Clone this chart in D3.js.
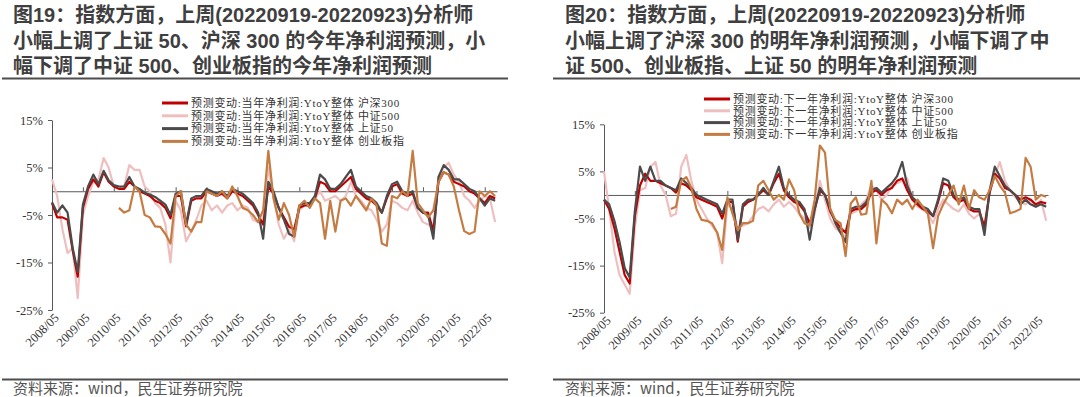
<!DOCTYPE html>
<html>
<head>
<meta charset="utf-8">
<script src="https://cdn.jsdelivr.net/npm/d3@7/dist/d3.min.js"></script>
<style>
    body { margin: 0; background: #ffffff; }
    svg { display: block; }
</style>
</head>
<body>
<svg id="chart" width="1080" height="397"></svg>
<script>
// bi-monthly samples, 2008/05 .. 2022/09
var firstSample = "2008-05-01"
var lastDay = "2022-09-23"
var xTickLabels = ["2008/05", "2009/05", "2010/05", "2011/05", "2012/05", "2013/05", "2014/05", "2015/05",
    "2016/05", "2017/05", "2018/05", "2019/05", "2020/05", "2021/05", "2022/05"]
var yTickValues = [15, 5, -5, -15, -25]

var seriesNames = ["沪深300", "中证500", "上证50", "创业板指"]

// 图19: 当年净利润预测变动 (%)
var thisYearHs300 = [-2.5, -5.5, -5.5, -6, -12.5, -18, -3.5, 0.5, 2.5, 1,
    4, 2, 1, 0.5, 0.5, 2, 1, 0, -0.5, -1,
    -2, -2.5, -3.5, -5.7, -1, -1, -7.4, -2, -1.5, -1.5,
    0, -0.5, -1, -0.5, -1.5, 0, -0.5, -1, -2, -3,
    -5, -7, 1, -0.5, -3.5, -5.5, -7.5, -8, -3.5, -3,
    -3, -1.5, 2, 1.5, 0, 0, 1, 2, 3, 0.5,
    -0.5, -1.5, -2, -3, -4.5, -1.5, 1, 1.5, -0.5, -1,
    -0.5, -3.5, -4.5, -4.5, -8.4, 2, 4, 3.5, 2, 1.5,
    1, 0, -0.5, -1.5, -2.5, -1, -1.5]
var thisYearZz500 = [2.5, -1, -8, -13, -12, -22.5, -5, -1, 2, 2.5,
    7, 5, 1, 0.5, 1, 5.5, 4.5, 4.5, 1, 0,
    -2.5, -3.5, -7, -15, -2, -4, -10.5, -8.5, -6, -3,
    -2, -4, -3, -4.5, -3, -2.5, -4, -3, -3.5, -6,
    -6.5, -7, 5, -1, -7, -10, -8, -10.5, -4, -3,
    -2.5, -1.5, 0, -2, -1.5, -1, -2, -1, 2, -1,
    -2, -3.5, -4, -6, -8.5, -7, -2, -2.5, -3.5, -4,
    -2, -4.5, -6.5, -7, -7.5, 3, 5, 6, 3.5, 2,
    -1, -2, -3.5, -2, -1, -1.5, -6.5]
var thisYearSz50 = [-2.3, -4.5, -3, -4.5, -12, -17, -2.8, 1, 3.5, 1.5,
    4.3, 2.3, 1.3, 1, 1, 3, 1, 0.5, -0.3, -0.7,
    -1.2, -2, -2.8, -5, -0.5, 0, -7, -1.5, -1, -1,
    0.5, 0, -0.5, 0, -1, 0.5, 0, -0.5, -1.5, -2.5,
    -4.5, -10, 2, 0, -3.5, -6, -9, -9.5, -3, -2.5,
    -2.5, -1, 3.5, 2.5, 0.5, 0.5, 1.5, 3, 4.5, 1,
    0, -1, -1.5, -2.5, -4.5, -1, 1.5, 2, 0, -0.5,
    0, -3.5, -4.5, -5, -10, 3, 5.5, 4.5, 2.5, 2.5,
    1.5, 0.5, 0, -1.5, -3, -1.5, -2]
var thisYearCyb = [null, null, null, null, null, null, null, null, null, null,
    null, null, null, -3.5, -4.5, -4, 1, 0, -5, -5.5,
    -7.4, -7.5, -9, -11, -1, 0, -7, -8.5, -6.5, -6.5,
    0, -0.5, -1, 0, -1.5, 1, -1, -3.5, -4, -5,
    -6.5, -4, 8.5, -1.5, -6, -2.5, -5, -9.6, -3, -2,
    -3.5, -1.5, -2.5, -10, -2, -8.5, -2, -1.5, -3, -1,
    -2.5, -4, -1.5, -3, -11, -11.5, -1, -1.5, 0, -1,
    8.5, -2.5, -4, -5.5, -4, 2, 4, 3.5, 1, -4,
    -8.4, -9, -8.5, 0, -1, 0, -1]

// 图20: 下一年净利润预测变动 (%)
var nextYearHs300 = [-1, -3, -7, -12, -17, -18.8, -4.5, 2, 4.5, 3,
    3, 2.5, 2, 1.5, 0.5, 2.5, 2, 1, -0.5, -1,
    -1.5, -2, -2.5, -5, -1.5, -1.5, -9.9, -2.5, -1.5, -1,
    0, 1, 0, 2.5, 4.5, 1, -0.5, -1.5, -2, -3.5,
    -6, -3, 1, 0, -3.5, -5.5, -7, -8, -3.5, -3,
    -3, -2, 0.5, 1, 0, 1, 1.5, 3, 3.5, 1,
    -1, -2, -3, -3.5, -4.5, -1.5, 2.5, 2, -0.5, -1.5,
    -1, -3, -3.5, -3.5, -6.7, 0.5, 4.5, 3.5, 1.5, 1,
    0, -1, -0.5, -1, -2, -1.5, -1.8]
var nextYearZz500 = [5, -3, -12, -17, -19, -21, -7, 1, 1.5, 6,
    7, 2, 0, -4.5, -4, 6, 8.5, 3, -1, -3,
    -5, -6.5, -8, -14.5, -2, -3, -7, -6.5, -6, -4.5,
    -3, -2.5, -3.5, -2, -1, -2.5, -1.5, -2.5, -4, -5,
    -7, -4, 3, -1, -5, -7, -8, -9, -4, -3.5,
    -2, -1, 2, 1, -1, 0, 2, 2.5, 3, 3.5,
    -1, -2.5, -3, -4, -6, -3, -1, -2, -3, -3.5,
    -2, -4, -5, -4, -7, 1, 4, 7, 3, 1,
    -0.5, -1.5, -2, -1, -2.5, -1, -5.5]
var nextYearSz50 = [-1, -2, -5.5, -10, -15.5, -17.5, -3.5, 6, 3, 6,
    3, 3, 2, 1.5, 1, 3.5, 2.5, 1.5, 0, -0.5,
    -1, -1.5, -2, -4, -1, -1, -9.5, -2, -1, -1,
    0, 1.5, 0, 3, 6, 1.5, 0, -1, -1.5, -3,
    -9.5, -3, 1.5, 0, -3, -6, -8, -10, -3, -2.5,
    -2.5, -1.5, 1, 1.5, 0.5, 1.5, 2.5, 4, 7, 2,
    -0.5, -1.5, -2.5, -3, -4.5, -1, 3.5, 3, 0, -1,
    -0.5, -2.5, -3, -3, -8.5, 1, 6, 4, 2, 1,
    0, -2, -1, -2, -2.5, -2, -2.5]
var nextYearCyb = [null, null, null, null, null, null, null, null, null, null,
    null, null, null, -3, -2.5, 3, 3.8, 1.5, -3, -5.3,
    -5.5, -6, -8, -11.7, -0.5, -4, -7.5, -6, -6, -5.5,
    2, 3, 1, -1, 0, -1, 3.3, 1, -4, -6,
    -6.5, -1, 10.5, 9, -3, -5.3, -6, -13, -1.8, -0.5,
    -4.2, -4, 3, -10.3, -1, -2, -3.9, -1, -2, -1,
    -3, -1, -2.5, -4, -11.3, -4.5, -2, 0, 2, -2,
    2, -3, 1, -0.5, -1, 1, 4, 2, 0.5, -3.9,
    -3.5, -3, 7.9, 6, -1, 0, -0.4]

var seriesColors = ["#c00000", "#efbfbf", "#4b4b4b", "#c47c42"]
var drawOrder = [1, 0, 2, 3]

function sampleDates(count) {
    var start = new Date(firstSample + "T00:00:00Z")
    return d3.range(count).map(function (i) { return d3.utcMonth.offset(start, 2 * i) })
}

function tickDate(label) {
    var parts = label.split("/")
    return new Date(Date.UTC(+parts[0], +parts[1] - 1, 1))
}

function IndexPanelBuilder(configuration, seriesValues, legendPrefix) {

    var dates = sampleDates(seriesValues[0].length)

    var x = d3.scaleUtc()
        .domain([new Date(firstSample + "T00:00:00Z"), new Date(lastDay + "T00:00:00Z")])
        .range([configuration.plotLeft, configuration.plotRight])

    var y = d3.scaleLinear()
        .domain([-25, 15])
        .range([configuration.plotBottom, configuration.plotTop])

    function drawHeader(container) {
        configuration.titleLines.forEach(function (line, i) {
            container.append("text")
                .attr("x", configuration.left + 12)
                .attr("y", 22 + i * 25.5)
                .attr("font-family", "'Liberation Sans', 'Noto Sans CJK SC', sans-serif")
                .attr("font-weight", "bold")
                .attr("font-size", 20)
                .attr("fill", "#3f3f3f")
                .text(line)
        })

        container.append("line")
            .attr("x1", configuration.ruleLeft)
            .attr("x2", configuration.ruleRight)
            .attr("y1", 78.5)
            .attr("y2", 78.5)
            .attr("style", "stroke: #4d4d4d; stroke-width: 2.2")
    }

    function drawFooter(container) {
        container.append("line")
            .attr("x1", configuration.ruleLeft)
            .attr("x2", configuration.ruleRight)
            .attr("y1", 379.5)
            .attr("y2", 379.5)
            .attr("style", "stroke: #4d4d4d; stroke-width: 2.2")

        container.append("text")
            .attr("x", configuration.left + 12)
            .attr("y", 394)
            .attr("font-family", "'Noto Sans CJK SC', sans-serif")
            .attr("font-size", 15)
            .attr("fill", "#555555")
            .text("资料来源：wind，民生证券研究院")
    }

    function drawAxes(container) {
        var yAxis = container.append("g")
            .attr("transform", "translate(" + configuration.plotLeft + ",0)")
            .call(d3.axisLeft(y).tickValues(yTickValues).tickSizeInner(4).tickSizeOuter(0).tickPadding(5)
                .tickFormat(function (d) { return d + "%" }))
        yAxis.selectAll("path, line").attr("stroke", "#595959")
        yAxis.selectAll("text")
            .attr("font-family", "'Liberation Serif', 'Times New Roman', serif")
            .attr("font-size", 12.5)
            .attr("fill", "#333333")

        var tickDates = xTickLabels.map(tickDate)

        var zeroAxis = container.append("g")
            .attr("transform", "translate(0," + y(0) + ")")
            .call(d3.axisBottom(x).tickValues(tickDates).tickSizeInner(-4).tickSizeOuter(0).tickFormat(""))
        zeroAxis.selectAll("path, line").attr("stroke", "#595959")

        var labelAxis = container.append("g")
            .attr("transform", "translate(0," + (configuration.plotBottom + 5) + ")")
            .call(d3.axisBottom(x).tickValues(tickDates).tickSize(0).tickPadding(0)
                .tickFormat(function (d, i) { return xTickLabels[i] }))
        labelAxis.select(".domain").remove()
        labelAxis.selectAll("text")
            .attr("font-family", "'Liberation Serif', 'Times New Roman', serif")
            .attr("font-size", 12.5)
            .attr("fill", "#333333")
            .attr("text-anchor", "end")
            .attr("dx", "0.2em")
            .attr("dy", "0.6em")
            .attr("transform", "rotate(-45)")
    }

    function drawSeries(container) {
        drawOrder.forEach(function (k) {
            var line = d3.line()
                .defined(function (d) { return d != null })
                .x(function (d, i) { return x(dates[i]) })
                .y(function (d) { return y(d) })

            container.append("path")
                .datum(seriesValues[k])
                .attr("d", line)
                .attr("fill", "none")
                .attr("stroke", seriesColors[k])
                .attr("stroke-width", 2.2)
                .attr("stroke-linejoin", "round")
        })
    }

    function drawLegend(container) {
        seriesNames.forEach(function (name, i) {
            var rowY = configuration.legendTop + i * configuration.legendStep
            container.append("line")
                .attr("x1", configuration.legendX)
                .attr("x2", configuration.legendX + 26)
                .attr("y1", rowY)
                .attr("y2", rowY)
                .attr("stroke", seriesColors[i])
                .attr("stroke-width", 3)

            container.append("text")
                .attr("x", configuration.legendX + 29)
                .attr("y", rowY)
                .attr("dy", "0.35em")
                .attr("font-family", "'Liberation Serif', 'Noto Sans CJK SC', serif")
                .attr("font-size", 11)
                .attr("letter-spacing", 0.7)
                .attr("fill", "#333333")
                .text(legendPrefix + name)
        })
    }

    this.draw = function (svgContainer) {
        var mainContainer = svgContainer.append("g").attr("id", configuration.id)
        drawHeader(mainContainer)
        drawAxes(mainContainer)
        drawSeries(mainContainer)
        drawLegend(mainContainer)
        drawFooter(mainContainer)
    }
}

var svg = d3.select("#chart")

new IndexPanelBuilder({
    id: "figure19",
    left: 1,
    ruleLeft: 2,
    ruleRight: 508,
    plotLeft: 52,
    plotRight: 497,
    plotTop: 120,
    plotBottom: 310,
    legendX: 162,
    legendTop: 103,
    legendStep: 12.8,
    titleLines: ["图19：指数方面，上周(20220919-20220923)分析师",
        "小幅上调了上证 50、沪深 300 的今年净利润预测，小",
        "幅下调了中证 500、创业板指的今年净利润预测"]
}, [thisYearHs300, thisYearZz500, thisYearSz50, thisYearCyb], "预测变动:当年净利润:YtoY整体 ").draw(svg)

new IndexPanelBuilder({
    id: "figure20",
    left: 553,
    ruleLeft: 553,
    ruleRight: 1080,
    plotLeft: 604,
    plotRight: 1048,
    plotTop: 124.3,
    plotBottom: 312.7,
    legendX: 704,
    legendTop: 99,
    legendStep: 11.8,
    titleLines: ["图20：指数方面，上周(20220919-20220923)分析师",
        "小幅上调了沪深 300 的明年净利润预测，小幅下调了中",
        "证 500、创业板指、上证 50 的明年净利润预测"]
}, [nextYearHs300, nextYearZz500, nextYearSz50, nextYearCyb], "预测变动:下一年净利润:YtoY整体 ").draw(svg)
</script>
</body>
</html>
